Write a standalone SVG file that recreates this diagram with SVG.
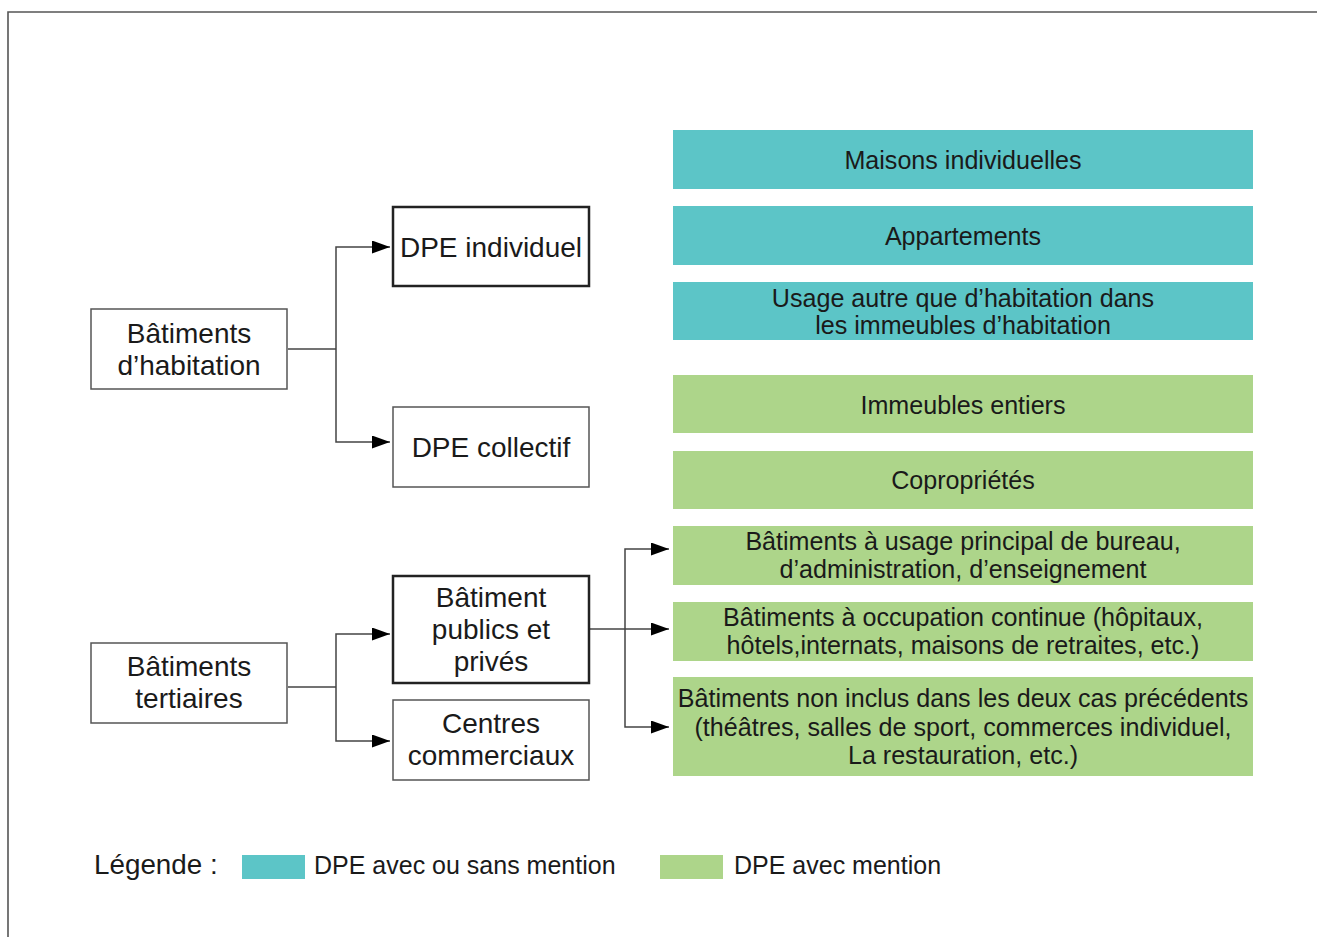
<svg xmlns="http://www.w3.org/2000/svg" width="1317" height="937" viewBox="0 0 1317 937">
<style>
text{font-family:"Liberation Sans",Arial,sans-serif;fill:#1a1a1a;text-anchor:middle}
.n{font-size:28px}
.r{font-size:25.1px}
.lg{font-size:25px;text-anchor:start}
.thin{fill:#fff;stroke:#555;stroke-width:1.5}
.thick{fill:#fff;stroke:#222;stroke-width:2.5}
.teal{fill:#5cc5c7}
.green{fill:#add58a}
.c{fill:none;stroke:#444;stroke-width:1.5}
</style>
<defs>
<marker id="ah" viewBox="0 0 18 13" refX="18" refY="6.5" markerWidth="18" markerHeight="13" markerUnits="userSpaceOnUse" orient="auto">
<path d="M0,0 L18,6.5 L0,13 Z" fill="#000"/>
</marker>
</defs>
<rect width="1317" height="937" fill="#fff"/>
<path d="M8,937 V12 H1317" fill="none" stroke="#555" stroke-width="1.6"/>

<g id="connectors">
<path class="c" d="M288,349 H336"/>
<path class="c" d="M336,349 V247 H390" marker-end="url(#ah)"/>
<path class="c" d="M336,349 V442 H390" marker-end="url(#ah)"/>
<path class="c" d="M288,687 H336"/>
<path class="c" d="M336,687 V634 H390" marker-end="url(#ah)"/>
<path class="c" d="M336,687 V741 H390" marker-end="url(#ah)"/>
<path class="c" d="M590,629 H669" marker-end="url(#ah)"/>
<path class="c" d="M625,629 V549 H669" marker-end="url(#ah)"/>
<path class="c" d="M625,629 V727 H669" marker-end="url(#ah)"/>
</g>

<g id="n-habitation"><rect class="thin" x="91" y="309" width="196" height="80"/>
<text class="n" x="189" y="343">Bâtiments</text><text class="n" x="189" y="375">d’habitation</text></g>
<g id="n-dpe-individuel"><rect class="thick" x="393" y="207" width="196" height="79"/>
<text class="n" x="491" y="257">DPE individuel</text></g>
<g id="n-dpe-collectif"><rect class="thin" x="393" y="407" width="196" height="80"/>
<text class="n" x="491" y="457">DPE collectif</text></g>
<g id="n-tertiaires"><rect class="thin" x="91" y="643" width="196" height="80"/>
<text class="n" x="189" y="676">Bâtiments</text><text class="n" x="189" y="708">tertiaires</text></g>
<g id="n-publics"><rect class="thick" x="393" y="576" width="196" height="107"/>
<text class="n" x="491" y="607">Bâtiment</text><text class="n" x="491" y="639">publics et</text><text class="n" x="491" y="671">privés</text></g>
<g id="n-centres"><rect class="thin" x="393" y="700" width="196" height="80"/>
<text class="n" x="491" y="733">Centres</text><text class="n" x="491" y="765">commerciaux</text></g>

<g id="r-maisons"><rect class="teal" x="673" y="130" width="580" height="59"/>
<text class="r" x="963" y="169">Maisons individuelles</text></g>
<g id="r-appartements"><rect class="teal" x="673" y="206" width="580" height="59"/>
<text class="r" x="963" y="245">Appartements</text></g>
<g id="r-usage"><rect class="teal" x="673" y="282" width="580" height="58"/>
<text class="r" x="963" y="307">Usage autre que d’habitation dans</text><text class="r" x="963" y="334">les immeubles d’habitation</text></g>
<g id="r-immeubles"><rect class="green" x="673" y="375" width="580" height="58"/>
<text class="r" x="963" y="414">Immeubles entiers</text></g>
<g id="r-coproprietes"><rect class="green" x="673" y="451" width="580" height="58"/>
<text class="r" x="963" y="489">Copropriétés</text></g>
<g id="r-bureau"><rect class="green" x="673" y="526" width="580" height="59"/>
<text class="r" x="963" y="550">Bâtiments à usage principal de bureau,</text><text class="r" x="963" y="578">d’administration, d’enseignement</text></g>
<g id="r-occupation"><rect class="green" x="673" y="602" width="580" height="59"/>
<text class="r" x="963" y="626">Bâtiments à occupation continue (hôpitaux,</text><text class="r" x="963" y="654">hôtels,internats, maisons de retraites, etc.)</text></g>
<g id="r-autres"><rect class="green" x="673" y="677" width="580" height="99"/>
<text class="r" x="963" y="707">Bâtiments non inclus dans les deux cas précédents</text><text class="r" x="963" y="736">(théâtres, salles de sport, commerces individuel,</text><text class="r" x="963" y="764">La restauration, etc.)</text></g>

<g id="legend">
<text class="lg" x="94" y="874" style="font-size:27.8px">Légende :</text>
<rect class="teal" x="242" y="855" width="63" height="24"/>
<text class="lg" x="314" y="874">DPE avec ou sans mention</text>
<rect class="green" x="660" y="855" width="63" height="24"/>
<text class="lg" x="734" y="874">DPE avec mention</text>
</g>
</svg>
